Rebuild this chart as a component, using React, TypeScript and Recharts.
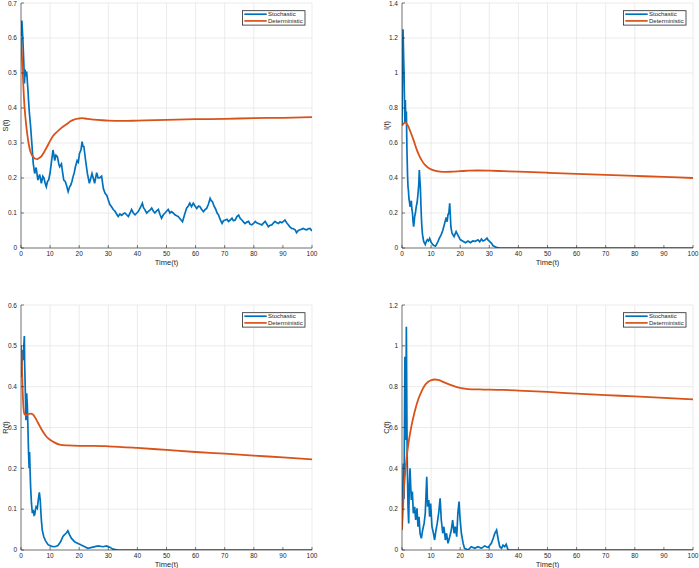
import React from 'react';
import { LineChart, Line, XAxis, YAxis, CartesianGrid, Legend } from 'recharts';

const FONT = '"Liberation Sans", Arial, Helvetica, sans-serif';
const BLUE = '#0072BD';
const ORANGE = '#D95319';
const INK = '#262626';

const X_TICKS = [0, 10, 20, 30, 40, 50, 60, 70, 80, 90, 100];
const S_TICKS = [0, 0.1, 0.2, 0.3, 0.4, 0.5, 0.6, 0.7];
const I_TICKS = [0, 0.2, 0.4, 0.6, 0.8, 1, 1.2, 1.4];
const R_TICKS = [0, 0.1, 0.2, 0.3, 0.4, 0.5, 0.6];
const C_TICKS = [0, 0.2, 0.4, 0.6, 0.8, 1, 1.2];
const SERIES_ORDER = ['Stochastic', 'Deterministic'];

// [time, value]
const S_STOCH: [number, number][] = [
  [0, 0.604], [0.3, 0.65], [0.7, 0.585], [1, 0.52], [1.2, 0.47], [1.4, 0.51], [1.7, 0.49], [1.95, 0.504],
  [2.4, 0.45], [2.8, 0.394], [3.3, 0.347], [3.8, 0.29], [4.2, 0.242], [4.7, 0.213], [5.2, 0.23], [5.8, 0.194],
  [6.4, 0.21], [7, 0.185], [7.5, 0.205], [7.9, 0.2], [8.3, 0.185], [8.7, 0.175], [9.1, 0.19], [9.5, 0.194],
  [10, 0.215], [10.4, 0.242], [11, 0.28], [11.6, 0.25], [12, 0.265], [12.5, 0.261], [13, 0.24], [13.3, 0.232],
  [13.9, 0.24], [14.3, 0.215], [14.7, 0.194], [15.2, 0.19], [15.6, 0.18], [16.2, 0.161], [16.7, 0.175], [17.1, 0.18],
  [17.5, 0.19], [17.9, 0.204], [18.3, 0.215], [18.7, 0.232], [19.3, 0.25], [19.7, 0.245], [20.1, 0.27], [20.6, 0.28],
  [21, 0.304], [21.3, 0.29], [21.6, 0.29], [22.2, 0.25], [22.8, 0.213], [23.5, 0.185], [24, 0.2], [24.4, 0.213],
  [25, 0.195], [25.3, 0.185], [26, 0.215], [26.5, 0.2], [27, 0.2], [27.7, 0.205], [28.3, 0.17], [28.9, 0.156],
  [29.5, 0.15], [30, 0.137], [30.5, 0.125], [31.1, 0.118], [31.7, 0.11], [32.3, 0.105], [32.8, 0.098], [33.4, 0.09],
  [34, 0.097], [34.6, 0.093], [35.2, 0.098], [35.7, 0.1], [36.3, 0.095], [36.9, 0.09], [37.5, 0.1], [38, 0.11],
  [38.6, 0.1], [39.2, 0.095], [39.8, 0.1], [40.3, 0.104], [41, 0.115], [41.7, 0.128], [42.1, 0.115], [42.6, 0.109],
  [43.2, 0.1], [43.7, 0.104], [44.3, 0.108], [44.9, 0.114], [45.5, 0.105], [46, 0.1], [46.6, 0.106], [47.2, 0.11],
  [47.8, 0.095], [48.3, 0.085], [48.9, 0.095], [49.5, 0.1], [50, 0.105], [50.6, 0.11], [51.2, 0.1], [51.7, 0.104],
  [52.3, 0.1], [52.9, 0.095], [53.5, 0.092], [54, 0.09], [54.8, 0.082], [55.5, 0.075], [56.2, 0.095], [56.9, 0.114],
  [57.5, 0.12], [58, 0.128], [58.6, 0.118], [59.2, 0.128], [59.8, 0.12], [60.4, 0.113], [61, 0.12], [61.5, 0.118],
  [62.1, 0.11], [62.7, 0.104], [63.3, 0.11], [63.8, 0.113], [64.4, 0.125], [65, 0.142], [65.4, 0.135], [65.8, 0.132],
  [66.3, 0.12], [66.8, 0.113], [67.4, 0.1], [67.9, 0.094], [68.5, 0.08], [69.1, 0.07], [69.6, 0.078], [70.2, 0.08],
  [70.8, 0.082], [71.3, 0.076], [71.9, 0.08], [72.5, 0.085], [73, 0.078], [73.6, 0.08], [74.2, 0.09], [74.8, 0.094],
  [75.3, 0.085], [75.9, 0.08], [76.5, 0.074], [77, 0.07], [77.6, 0.074], [78.2, 0.076], [78.7, 0.068], [79.3, 0.066],
  [79.9, 0.07], [80.5, 0.076], [81, 0.072], [81.6, 0.07], [82.2, 0.068], [82.8, 0.066], [83.4, 0.072], [83.9, 0.076],
  [84.5, 0.068], [85, 0.061], [85.6, 0.065], [86.2, 0.066], [86.8, 0.072], [87.3, 0.076], [87.9, 0.072], [88.5, 0.07],
  [89, 0.075], [89.6, 0.072], [90.2, 0.076], [90.7, 0.08], [91.3, 0.072], [91.9, 0.066], [92.4, 0.06], [93, 0.056],
  [93.6, 0.055], [94.2, 0.052], [94.7, 0.044], [95.3, 0.05], [95.9, 0.052], [96.5, 0.054], [97, 0.056], [97.6, 0.053],
  [98.2, 0.052], [98.7, 0.055], [99.3, 0.056], [100, 0.049],
];
const S_DET: [number, number][] = [
  [0, 0.6], [0.5, 0.52], [1, 0.43], [1.5, 0.375], [2, 0.335], [2.5, 0.305], [3, 0.283], [3.5, 0.27], [4, 0.262],
  [4.5, 0.257], [5, 0.255], [5.5, 0.254], [6, 0.256], [7, 0.262], [8, 0.275], [9, 0.29], [10, 0.306], [11, 0.32],
  [12, 0.329], [13, 0.337], [14, 0.344], [15, 0.35], [16, 0.356], [17, 0.362], [18, 0.366], [19, 0.369], [20, 0.37],
  [21, 0.371], [22, 0.37], [25, 0.367], [28, 0.365], [30, 0.364], [35, 0.363], [40, 0.364], [50, 0.366], [60, 0.368],
  [70, 0.369], [80, 0.371], [90, 0.372], [100, 0.374],
];

const I_STOCH: [number, number][] = [
  [0, 0.7], [0.15, 1.0], [0.35, 1.25], [0.55, 1.1], [0.7, 1.0], [0.9, 0.79], [1.0, 0.72], [1.15, 0.845], [1.3, 0.74],
  [1.5, 0.78], [1.7, 0.56], [1.9, 0.42], [2.06, 0.35], [2.2, 0.33], [2.4, 0.28], [2.6, 0.26], [2.75, 0.236], [3, 0.25],
  [3.2, 0.27], [3.4, 0.22], [3.6, 0.2], [3.8, 0.15], [4, 0.122], [4.2, 0.15], [4.35, 0.18], [4.6, 0.2], [4.9, 0.236],
  [5.2, 0.26], [5.5, 0.31], [5.75, 0.36], [5.95, 0.446], [6.1, 0.4], [6.3, 0.35], [6.5, 0.25], [6.65, 0.18], [6.8, 0.13],
  [7, 0.084], [7.2, 0.06], [7.45, 0.037], [8, 0.02], [8.4, 0.04], [8.7, 0.048], [9.1, 0.04], [9.5, 0.055], [10.1, 0.03],
  [10.8, 0.015], [11.5, 0.01], [12.2, 0.03], [12.8, 0.055], [13.4, 0.074], [14, 0.1], [14.6, 0.137], [15.2, 0.175],
  [15.5, 0.15], [15.8, 0.19], [16.1, 0.2], [16.4, 0.255], [16.8, 0.12], [17.2, 0.084], [17.9, 0.065], [18.6, 0.094],
  [19.2, 0.074], [20, 0.048], [20.8, 0.04], [21.8, 0.03], [22.7, 0.04], [23.5, 0.03], [24.3, 0.04], [25.2, 0.038],
  [26.1, 0.047], [26.7, 0.035], [27.3, 0.051], [27.8, 0.04], [28.4, 0.044], [29.2, 0.057], [29.6, 0.045], [30.1, 0.038],
  [30.7, 0.028], [31.3, 0.013], [32.4, 0.004], [33.6, 0], [100, 0],
];
const I_DET: [number, number][] = [
  [0, 0.7], [0.5, 0.71], [1.15, 0.716], [2, 0.7], [3, 0.66], [4, 0.615], [5, 0.565], [6, 0.525], [7, 0.495],
  [8, 0.473], [9, 0.458], [10, 0.449], [11, 0.443], [12, 0.439], [13, 0.437], [15, 0.435], [17, 0.436], [20, 0.439],
  [23, 0.442], [26, 0.443], [30, 0.442], [35, 0.439], [40, 0.436], [50, 0.43], [60, 0.424], [70, 0.418], [80, 0.412],
  [90, 0.406], [100, 0.4],
];

const R_STOCH: [number, number][] = [
  [0, 0.5], [0.23, 0.424], [0.46, 0.49], [0.69, 0.465], [0.9, 0.49], [1.15, 0.524], [1.26, 0.456], [1.5, 0.384],
  [1.7, 0.318], [1.95, 0.384], [2.2, 0.35], [2.4, 0.294], [2.6, 0.237], [2.8, 0.2], [2.95, 0.24], [3.1, 0.2],
  [3.3, 0.155], [3.6, 0.114], [3.9, 0.09], [4.2, 0.098], [4.5, 0.085], [4.7, 0.086], [5, 0.1], [5.2, 0.106],
  [5.6, 0.102], [5.9, 0.12], [6.1, 0.131], [6.3, 0.141], [6.6, 0.123], [7, 0.073], [7.3, 0.049], [7.8, 0.033],
  [8.4, 0.023], [9.3, 0.013], [10.5, 0.009], [11.6, 0.008], [12.7, 0.011], [13.6, 0.02], [14.4, 0.033], [14.9, 0.037],
  [15.5, 0.041], [16.1, 0.047], [16.7, 0.037], [17.3, 0.029], [18.4, 0.02], [19.6, 0.016], [20.7, 0.012], [21.9, 0.008],
  [23, 0.004], [24.7, 0.007], [26.5, 0.01], [28.2, 0.008], [29.4, 0.01], [30.5, 0.007], [31.6, 0.002], [33.3, 0],
  [100, 0],
];
const R_DET: [number, number][] = [
  [0, 0.5], [0.34, 0.45], [0.57, 0.39], [0.9, 0.345], [1.25, 0.332], [1.8, 0.33], [2.6, 0.333], [3.3, 0.334],
  [4.1, 0.332], [5.2, 0.32], [6.4, 0.304], [7.5, 0.29], [8.7, 0.278], [10, 0.27], [11.6, 0.263], [13.3, 0.258],
  [16, 0.256], [20, 0.255], [25, 0.255], [30, 0.254], [40, 0.25], [50, 0.245], [60, 0.24], [70, 0.236], [80, 0.231],
  [90, 0.227], [100, 0.222],
];

const C_STOCH: [number, number][] = [
  [0, 0.1], [0.23, 0.245], [0.46, 0.424], [0.69, 0.25], [0.9, 0.735], [1.0, 0.947], [1.15, 0.816], [1.26, 0.539],
  [1.5, 1.094], [1.7, 0.6], [1.83, 0.408], [2.06, 0.212], [2.3, 0.13], [2.5, 0.31], [2.75, 0.4], [3, 0.31],
  [3.2, 0.245], [3.55, 0.286], [3.9, 0.18], [4.35, 0.212], [4.7, 0.147], [5.15, 0.204], [5.5, 0.114], [5.84, 0.163],
  [6.2, 0.082], [6.65, 0.057], [7.1, 0.098], [7.6, 0.13], [8, 0.18], [8.5, 0.359], [8.8, 0.212], [9.2, 0.245],
  [9.5, 0.163], [9.85, 0.228], [10.3, 0.114], [10.8, 0.082], [11.2, 0.049], [11.7, 0.098], [12.1, 0.13], [12.6, 0.18],
  [13.1, 0.253], [13.5, 0.147], [14, 0.082], [14.4, 0.114], [14.9, 0.049], [15.3, 0.082], [15.8, 0.033], [16.4, 0.065],
  [16.95, 0.098], [17.4, 0.147], [17.9, 0.082], [18.3, 0.114], [18.8, 0.065], [19.2, 0.18], [19.6, 0.237], [19.9, 0.163],
  [20.4, 0.082], [21, 0.033], [21.5, 0.008], [22.7, 0], [23.8, 0.016], [25, 0.008], [26.1, 0.016], [27.3, 0.008],
  [28.4, 0.02], [29.6, 0.012], [30.7, 0.033], [31.4, 0.06], [31.9, 0.082], [32.5, 0.098], [33.1, 0.049], [33.6, 0.016],
  [34.2, 0.008], [34.7, 0.024], [35.3, 0.016], [35.8, 0.028], [36.4, 0.002], [37, 0], [100, 0],
];
const C_DET: [number, number][] = [
  [0, 0.098], [0.23, 0.18], [0.57, 0.278], [0.9, 0.343], [1.5, 0.44], [2.06, 0.506], [3.2, 0.604], [4.35, 0.677],
  [5.5, 0.735], [6.65, 0.775], [7.8, 0.806], [8.9, 0.823], [10.1, 0.832], [11.2, 0.835], [12.4, 0.833], [14.7, 0.82],
  [16.9, 0.808], [19.2, 0.797], [21.5, 0.79], [24, 0.787], [28, 0.786], [35, 0.784], [40, 0.781], [50, 0.774],
  [60, 0.766], [70, 0.759], [80, 0.752], [90, 0.745], [100, 0.738],
];

const toPts = (arr: [number, number][]) => arr.map(([t, v]) => ({ t, v }));
const fmt = (v: number) => String(Number(v.toFixed(1)));
const SERIES_COLOR: Record<string, string> = { Stochastic: BLUE, Deterministic: ORANGE };

// MATLAB-style boxed legend, drawn as svg so the line samples render crisply
function BoxLegend({ payload }: any) {
  const items = [...(payload || [])].sort(
    (a: any, b: any) => SERIES_ORDER.indexOf(a.value) - SERIES_ORDER.indexOf(b.value),
  );
  return (
    <svg width={64} height={16} style={{ display: 'block' }}>
      <rect x={0.4} y={0.7} width={62.6} height={14.4} fill="#fff" stroke={INK} strokeWidth={0.8} />
      {items.map((p: any, i: number) => {
        const cy = 4.2 + i * 6.7;
        return (
          <g key={p.value}>
            <line x1={2.3} x2={24.7} y1={cy} y2={cy} stroke={SERIES_COLOR[p.value] || p.color} strokeWidth={1.7} />
            <text x={26} y={cy} dominantBaseline="central" fontSize={6} fill={INK} fontFamily={FONT}>{p.value}</text>
          </g>
        );
      })}
    </svg>
  );
}

const yLabel = (text: string) => (props: any) => {
  const { x, y, height } = props.viewBox;
  const cx = x + 5;
  const cy = y + height / 2;
  return (
    <text x={cx} y={cy} transform={`rotate(-90 ${cx} ${cy})`} textAnchor="middle" dominantBaseline="central"
      fontSize={7.5} fill={INK} fontFamily={FONT}>{text}</text>
  );
};

const xLabel = (props: any) => {
  const { x, y, width } = props.viewBox;
  return (
    <text x={x + width / 2} y={y + 16.5} textAnchor="middle" fontSize={7.5} fill={INK} fontFamily={FONT}>Time(t)</text>
  );
};

interface PanelProps {
  left: number;
  top: number;
  name: string;
  yMax: number;
  yTicks: number[];
  stoch: [number, number][];
  det: [number, number][];
}

function Panel({ left, top, name, yMax, yTicks, stoch, det }: PanelProps) {
  const tickStyle = { fill: INK, fontSize: 6.5, fontFamily: FONT };
  const axisLine = { stroke: INK, strokeWidth: 0.6 };
  return (
    <div style={{ position: 'absolute', left, top }}>
      <LineChart width={318} height={270} margin={{ top: 3, right: 6, bottom: 0, left: 0 }}>
        <CartesianGrid stroke="#e3e3e3" strokeWidth={0.7} />
        <XAxis dataKey="t" type="number" domain={[0, 100]} ticks={X_TICKS} allowDataOverflow height={22}
          tick={tickStyle} tickSize={-3} tickMargin={6} axisLine={axisLine} tickLine={axisLine}
          label={xLabel} />
        <XAxis xAxisId="top" orientation="top" type="number" domain={[0, 100]} ticks={X_TICKS} allowDataOverflow
          height={0} tick={false} tickSize={-3} axisLine={axisLine} tickLine={axisLine} />
        <YAxis type="number" domain={[0, yMax]} ticks={yTicks} allowDataOverflow width={21}
          tick={tickStyle} tickSize={-3} tickMargin={7} tickFormatter={fmt} axisLine={axisLine} tickLine={axisLine}
          label={yLabel(name)} />
        <YAxis yAxisId="right" orientation="right" type="number" domain={[0, yMax]} ticks={yTicks} allowDataOverflow
          width={0} tick={false} tickSize={-3} axisLine={axisLine} tickLine={axisLine} />
        <Line data={toPts(stoch)} dataKey="v" name="Stochastic" type="linear" stroke={BLUE} strokeWidth={1.7}
          dot={false} activeDot={false} isAnimationActive={false} />
        <Line data={toPts(det)} dataKey="v" name="Deterministic" type="monotone" stroke={ORANGE} strokeWidth={1.8}
          dot={false} activeDot={false} isAnimationActive={false} />
        <Legend layout="vertical" align="center" verticalAlign="middle" content={<BoxLegend />}
          wrapperStyle={{ left: 242, top: 10, width: 64 }} />
      </LineChart>
    </div>
  );
}

export default function App() {
  return (
    <div style={{ position: 'absolute', left: 0, top: 0, width: 699, height: 568, overflow: 'hidden', background: '#fff' }}>
      <Panel left={0} top={0} name="S(t)" yMax={0.7} yTicks={S_TICKS} stoch={S_STOCH} det={S_DET} />
      <Panel left={381} top={0} name="I(t)" yMax={1.4} yTicks={I_TICKS} stoch={I_STOCH} det={I_DET} />
      <Panel left={0} top={302} name="R(t)" yMax={0.6} yTicks={R_TICKS} stoch={R_STOCH} det={R_DET} />
      <Panel left={381} top={302} name="C(t)" yMax={1.2} yTicks={C_TICKS} stoch={C_STOCH} det={C_DET} />
    </div>
  );
}
